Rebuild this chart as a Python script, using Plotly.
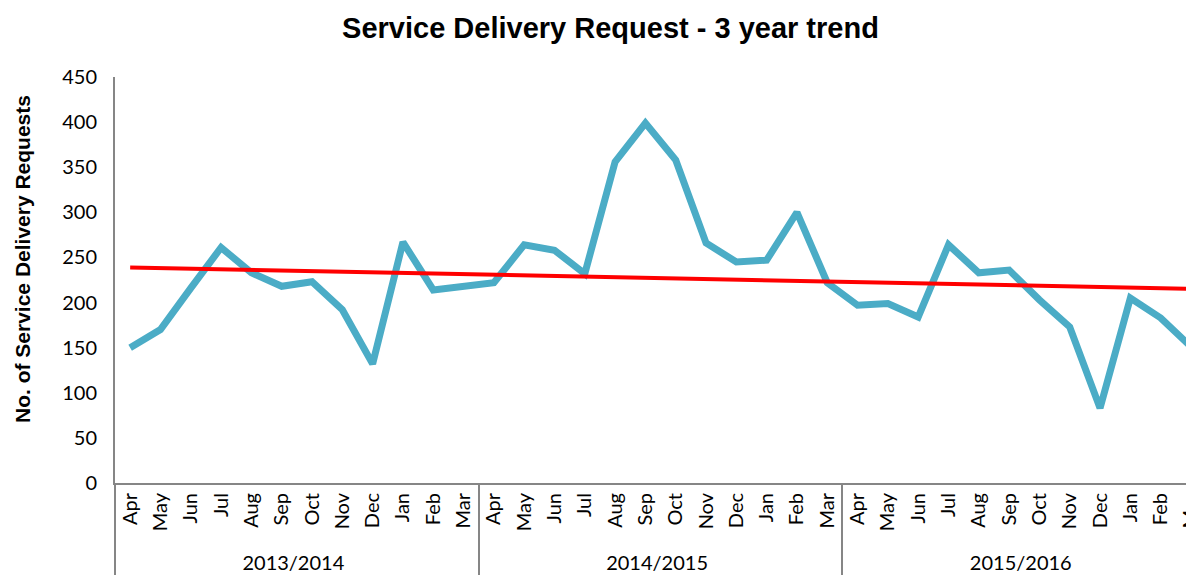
import numpy as np
import plotly.graph_objects as go

# Datos
anios = ["2013/2014", "2014/2015", "2015/2016"]
meses = ["Apr", "May", "Jun", "Jul", "Aug", "Sep", "Oct", "Nov", "Dec", "Jan", "Feb", "Mar"]
solicitudes = [
    150, 170, 216, 261, 233, 218, 223, 192, 132, 267, 214, 218,
    222, 264, 258, 232, 356, 399, 358, 266, 245, 247, 300, 222,
    197, 199, 184, 264, 233, 236, 203, 173, 83, 205, 183, 151,
]
y_ticks = [0, 50, 100, 150, 200, 250, 300, 350, 400, 450]

# Ejes multicategoria (anio fiscal / mes)
x_anio = [a for a in anios for _ in meses]
x_mes = [m for _ in anios for m in meses]

# Tendencia lineal sobre los datos
idx = np.arange(len(solicitudes))
pend, inter = np.polyfit(idx, solicitudes, 1)
tendencia = pend * idx + inter

fig = go.Figure()
fig.add_trace(go.Scatter(
    x=[x_anio, x_mes], y=solicitudes, mode="lines",
    line=dict(color="#4BACC6", width=7), showlegend=False
))
fig.add_trace(go.Scatter(
    x=[x_anio, x_mes], y=tendencia, mode="lines",
    line=dict(color="#FF0000", width=4), showlegend=False
))

# La pagina tiene 8px de margen en el body, se compensa en el tamano
fig.update_layout(
    title=dict(text="<b>Service Delivery Request - 3 year trend</b>",
               x=0.508, xanchor="center", y=0.965, yanchor="middle",
               font=dict(family="Liberation Sans, Arial", size=29, color="#000000")),
    width=1186, height=576,
    margin=dict(l=107, r=0, t=69, b=101, autoexpand=False),
    paper_bgcolor="white", plot_bgcolor="white",
    font=dict(family="Lato, Calibri, sans-serif", size=20, color="#000000"),
)
fig.add_annotation(
    text="<b>No. of Service Delivery Requests</b>", textangle=-90,
    xref="paper", yref="paper", x=0, y=0.5, xanchor="center", yanchor="middle",
    xshift=-93, yshift=21, showarrow=False,
    font=dict(family="Liberation Sans, Arial", size=21, color="#000000"),
)
fig.update_xaxes(
    type="multicategory", range=[-0.5, 35.1], tickangle=-90,
    showline=True, linecolor="#868686", linewidth=2,
    showdividers=True, dividercolor="#868686", dividerwidth=2,
    ticks="", showgrid=False, tickfont=dict(size=20), automargin=False,
)
fig.update_yaxes(
    range=[0, 450], tickvals=y_ticks, showgrid=False,
    showline=True, linecolor="#868686", linewidth=2,
    ticks="", tickfont=dict(size=20), ticklabelstandoff=12,
    zeroline=False, automargin=False,
)

fig.write_html("out.html")
